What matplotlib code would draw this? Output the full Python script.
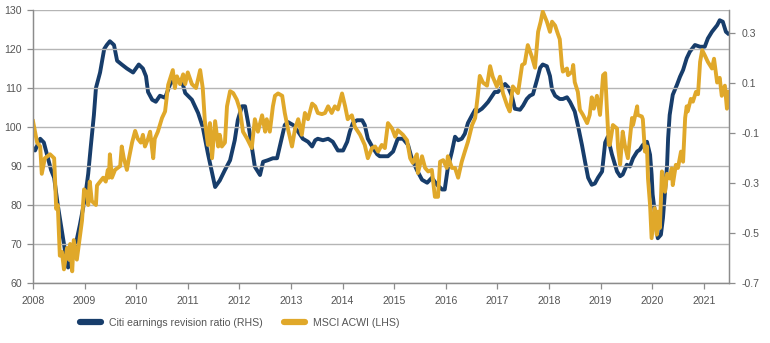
import matplotlib
matplotlib.use("Agg")
import matplotlib.pyplot as plt
from matplotlib import font_manager as fm

names = {f.name for f in fm.fontManager.ttflist}
FONT = "Liberation Sans Narrow" if "Liberation Sans Narrow" in names else "Liberation Sans"
NARROW = FONT == "Liberation Sans Narrow"
plt.rcParams['font.family'] = [FONT, 'DejaVu Sans']

# MSCI ACWI (LHS) - decimal year, index level
acwi_t = [2008.00, 2008.08, 2008.14, 2008.17, 2008.23, 2008.33, 2008.41, 2008.45, 2008.48, 2008.52,
          2008.56, 2008.60, 2008.66, 2008.70, 2008.72, 2008.76, 2008.79, 2008.85, 2008.91, 2008.95,
          2008.99, 2009.05, 2009.07, 2009.10, 2009.14, 2009.22, 2009.24, 2009.30, 2009.36, 2009.41,
          2009.45, 2009.47, 2009.49, 2009.53, 2009.59, 2009.69, 2009.72, 2009.76, 2009.82, 2009.86,
          2009.92, 2009.98, 2010.03, 2010.09, 2010.13, 2010.17, 2010.23, 2010.27, 2010.33, 2010.36,
          2010.42, 2010.50, 2010.56, 2010.62, 2010.71, 2010.75, 2010.79, 2010.85, 2010.91, 2010.95,
          2011.00, 2011.08, 2011.16, 2011.24, 2011.29, 2011.33, 2011.39, 2011.43, 2011.47, 2011.53,
          2011.59, 2011.62, 2011.66, 2011.72, 2011.76, 2011.82, 2011.88, 2011.95, 2012.01, 2012.07,
          2012.15, 2012.24, 2012.30, 2012.36, 2012.44, 2012.50, 2012.53, 2012.59, 2012.65, 2012.69,
          2012.75, 2012.83, 2012.88, 2012.94, 2013.02, 2013.08, 2013.14, 2013.21, 2013.27, 2013.33,
          2013.41, 2013.47, 2013.52, 2013.60, 2013.66, 2013.72, 2013.79, 2013.85, 2013.91, 2013.99,
          2014.05, 2014.10, 2014.18, 2014.24, 2014.34, 2014.43, 2014.49, 2014.57, 2014.63, 2014.69,
          2014.76, 2014.82, 2014.88, 2014.96, 2015.02, 2015.07, 2015.17, 2015.25, 2015.31, 2015.36,
          2015.44, 2015.46, 2015.54, 2015.60, 2015.66, 2015.73, 2015.79, 2015.85, 2015.89, 2015.95,
          2016.02, 2016.04, 2016.12, 2016.18, 2016.24, 2016.31, 2016.37, 2016.43, 2016.51, 2016.57,
          2016.62, 2016.66, 2016.72, 2016.80, 2016.86, 2016.91, 2016.99, 2017.05, 2017.11, 2017.19,
          2017.24, 2017.30, 2017.40, 2017.48, 2017.53, 2017.59, 2017.67, 2017.73, 2017.79, 2017.84,
          2017.88, 2017.96, 2018.02, 2018.06, 2018.12, 2018.17, 2018.21, 2018.25, 2018.27, 2018.35,
          2018.37, 2018.45, 2018.47, 2018.50, 2018.56, 2018.60, 2018.66, 2018.74, 2018.79, 2018.83,
          2018.87, 2018.93, 2018.99, 2019.05, 2019.09, 2019.12, 2019.16, 2019.18, 2019.24, 2019.32,
          2019.34, 2019.38, 2019.43, 2019.47, 2019.53, 2019.61, 2019.63, 2019.71, 2019.72, 2019.80,
          2019.82, 2019.86, 2019.90, 2019.92, 2019.96, 2019.99, 2020.05, 2020.09, 2020.11, 2020.15,
          2020.19, 2020.25, 2020.29, 2020.34, 2020.38, 2020.40, 2020.46, 2020.50, 2020.56, 2020.60,
          2020.64, 2020.67, 2020.69, 2020.75, 2020.79, 2020.85, 2020.89, 2020.93, 2020.97, 2021.02,
          2021.08, 2021.16, 2021.20, 2021.26, 2021.31, 2021.35, 2021.41, 2021.45, 2021.49]
acwi_v = [101.5, 96, 95, 88, 92, 93, 92, 79, 80, 67,
          68, 63.5, 69, 66, 70, 63, 71, 66, 72, 76,
          84, 83, 80, 86, 81, 80, 85, 86, 87, 86,
          89, 87, 93, 87, 89, 90, 95, 92, 89, 92,
          96, 99, 97, 96, 98, 95, 97, 98.8, 92, 97,
          98.8, 102.3, 104, 110.8, 114.6, 110, 113, 111, 113.5, 111,
          114, 111, 110, 114.6, 110, 101.7, 95.4, 101, 92, 101.5,
          95, 98, 95, 96, 105.3, 109.2, 108.7, 107, 104.5, 98.8,
          97, 94.6, 102, 98.8, 103, 98.8, 102, 98.8, 105.3, 108,
          108.6, 108, 103.6, 99.6, 95, 99.6, 102, 98, 103.6, 102,
          106, 105.3, 103.6, 103.3, 103.6, 105.3, 103.6, 105.3, 104.5, 108.6,
          105.3, 102, 103, 100, 98, 95.4, 92, 94.6, 95, 93.7,
          95.4, 94.6, 101, 99.6, 97.5, 99.2, 98, 96.6, 92, 90.8,
          93, 88.2, 92.5, 89.5, 88.6, 89, 82.1, 82.1, 91.1, 91.5,
          89.5, 92.5, 89.5, 89.5, 87, 91.1, 93.7, 96.2, 100.5, 102.3,
          108, 113.1, 111.4, 110.6, 115.6, 112.9, 110.4, 112.9, 108.6, 105.5,
          104, 110.4, 108.7, 115.9, 116.3, 121, 118, 115.2, 124.4, 127,
          129.6, 127, 124.4, 127, 126, 124, 122.5, 115.9, 114.2, 115,
          113.3, 114.2, 115.9, 111.5, 109, 104.4, 103.1, 101, 103.1, 107.6,
          104.7, 108, 103.1, 113.3, 113.8, 105.5, 95.4, 95.4, 100.5, 99.6,
          94.6, 90.4, 98.8, 95.4, 92, 102.3, 100.5, 105.3, 103.1, 102.7,
          102, 93.7, 95, 86.8, 80, 71.5, 79.2, 72.4, 78.3, 74.1,
          88.6, 83.4, 88, 86.8, 89.4, 85.1, 90.3, 89.5, 93.7, 91.1,
          102.3, 105.3, 104, 107.2, 106.5, 109, 108.4, 116.7, 119.7, 118.4,
          116.7, 115, 117.5, 111.4, 112.6, 108, 110.6, 104.7, 109]

# Citi earnings revision ratio (RHS)
citi_t = [2008.00, 2008.04, 2008.14, 2008.21, 2008.29, 2008.35, 2008.41, 2008.48, 2008.54, 2008.60,
          2008.66, 2008.68, 2008.76, 2008.83, 2008.91, 2009.01, 2009.07, 2009.12, 2009.18, 2009.22,
          2009.30, 2009.38, 2009.43, 2009.49, 2009.57, 2009.63, 2009.72, 2009.82, 2009.94, 2010.05,
          2010.13, 2010.19, 2010.23, 2010.31, 2010.38, 2010.46, 2010.56, 2010.66, 2010.77, 2010.89,
          2010.95, 2011.08, 2011.20, 2011.29, 2011.39, 2011.53, 2011.62, 2011.72, 2011.82, 2011.91,
          2011.97, 2012.05, 2012.11, 2012.17, 2012.24, 2012.30, 2012.40, 2012.46, 2012.55, 2012.65,
          2012.73, 2012.79, 2012.88, 2012.94, 2013.04, 2013.14, 2013.23, 2013.33, 2013.41, 2013.47,
          2013.52, 2013.62, 2013.72, 2013.81, 2013.91, 2014.01, 2014.09, 2014.14, 2014.20, 2014.28,
          2014.38, 2014.43, 2014.49, 2014.59, 2014.67, 2014.72, 2014.78, 2014.88, 2014.98, 2015.07,
          2015.17, 2015.27, 2015.34, 2015.44, 2015.54, 2015.64, 2015.73, 2015.83, 2015.93, 2015.98,
          2016.04, 2016.12, 2016.18, 2016.24, 2016.31, 2016.37, 2016.43, 2016.51, 2016.57, 2016.62,
          2016.70, 2016.76, 2016.82, 2016.90, 2016.95, 2017.01, 2017.09, 2017.15, 2017.21, 2017.28,
          2017.34, 2017.44, 2017.50, 2017.57, 2017.63, 2017.69, 2017.77, 2017.83, 2017.88, 2017.96,
          2018.02, 2018.06, 2018.12, 2018.21, 2018.27, 2018.35, 2018.41, 2018.50, 2018.56, 2018.64,
          2018.70, 2018.76, 2018.83, 2018.89, 2018.95, 2019.03, 2019.09, 2019.14, 2019.22, 2019.32,
          2019.38, 2019.43, 2019.51, 2019.57, 2019.63, 2019.71, 2019.76, 2019.82, 2019.90, 2019.96,
          2019.99, 2020.01, 2020.05, 2020.09, 2020.11, 2020.17, 2020.21, 2020.25, 2020.29, 2020.31,
          2020.34, 2020.40, 2020.48, 2020.54, 2020.60, 2020.67, 2020.73, 2020.83, 2020.93, 2021.02,
          2021.08, 2021.16, 2021.26, 2021.31, 2021.37, 2021.43, 2021.47]
citi_v = [-0.160, -0.170, -0.123, -0.138, -0.201, -0.248, -0.279, -0.388, -0.466, -0.544,
          -0.622, -0.638, -0.606, -0.544, -0.466, -0.357, -0.263, -0.154, -0.029, 0.080,
          0.142, 0.236, 0.252, 0.267, 0.252, 0.189, 0.174, 0.158, 0.142, 0.174,
          0.158, 0.127, 0.064, 0.033, 0.025, 0.049, 0.041, 0.096, 0.119, 0.105,
          0.060, 0.033, -0.020, -0.076, -0.182, -0.316, -0.290, -0.248, -0.209, -0.129,
          -0.048, 0.007, 0.007, -0.060, -0.154, -0.235, -0.268, -0.215, -0.209, -0.201,
          -0.201, -0.148, -0.068, -0.056, -0.068, -0.095, -0.123, -0.135, -0.154, -0.129,
          -0.123, -0.129, -0.123, -0.135, -0.170, -0.170, -0.135, -0.095, -0.060, -0.049,
          -0.049, -0.068, -0.123, -0.160, -0.185, -0.193, -0.193, -0.193, -0.174, -0.123,
          -0.123, -0.148, -0.201, -0.248, -0.287, -0.299, -0.279, -0.307, -0.326, -0.326,
          -0.240, -0.174, -0.115, -0.129, -0.123, -0.103, -0.060, -0.029, -0.007, -0.014,
          -0.003, 0.010, 0.024, 0.049, 0.064, 0.064, 0.083, 0.096, 0.083, 0.049,
          -0.003, -0.007, 0.010, 0.036, 0.049, 0.055, 0.114, 0.161, 0.174, 0.167,
          0.128, 0.074, 0.049, 0.036, 0.036, 0.043, 0.024, -0.014, -0.068, -0.148,
          -0.215, -0.279, -0.307, -0.302, -0.279, -0.254, -0.138, -0.115, -0.185, -0.254,
          -0.273, -0.266, -0.227, -0.234, -0.201, -0.174, -0.167, -0.148, -0.135, -0.187,
          -0.266, -0.346, -0.413, -0.493, -0.521, -0.507, -0.440, -0.335, -0.227, -0.121,
          -0.028, 0.053, 0.092, 0.125, 0.152, 0.199, 0.225, 0.252, 0.245, 0.245,
          0.278, 0.305, 0.331, 0.351, 0.345, 0.305, 0.298]

years = list(range(2008, 2022))
left_ticks = [60, 70, 80, 90, 100, 110, 120, 130]
right_ticks = [-0.7, -0.5, -0.3, -0.1, 0.1, 0.3]

BLUE = "#173d6b"
GOLD = "#e0a82a"
GREY_TXT = "#555555"
GRID = "#b5b5b5"
SPINE = "#8c8c8c"

TICK_FS = 8.5 if NARROW else 7.6
LEG_FS = 9.5 if NARROW else 7.6

fig = plt.figure(figsize=(7.7, 3.43), dpi=100)
ax = fig.add_axes([33/770, 60/343, (729-33)/770, (283-10)/343])
ax2 = ax.twinx()

ax.set_xlim(2008, 2021.49)
ax.set_ylim(60, 130)
ax2.set_ylim(-0.7, 0.392)

ax.set_yticks(left_ticks)
ax.set_xticks(years)
ax.set_xticklabels([str(y) for y in years])
ax2.set_yticks(right_ticks)
ax2.set_yticklabels([f"{v:.1f}" for v in right_ticks])

ax.grid(axis='y', color=GRID, linewidth=1.0)
ax.set_axisbelow(True)

for a in (ax, ax2):
    for s in a.spines.values():
        s.set_color(SPINE)
        s.set_linewidth(0.9)
    a.spines['top'].set_visible(False)
    a.tick_params(colors=SPINE, labelcolor=GREY_TXT, labelsize=TICK_FS, length=4, width=0.9)
ax.tick_params(axis='y', pad=4)
ax2.tick_params(axis='y', pad=5)
ax.tick_params(axis='x', pad=5)

l2, = ax2.plot(citi_t, citi_v, color=BLUE, linewidth=2.8, solid_joinstyle='round',
               label="Citi earnings revision ratio (RHS)")
ax.set_zorder(ax2.get_zorder() + 1)
ax.patch.set_visible(False)
l1, = ax.plot(acwi_t, acwi_v, color=GOLD, linewidth=2.8, solid_joinstyle='round',
              label="MSCI ACWI (LHS)")

leg = fig.legend([l2, l1], [l2.get_label(), l1.get_label()], loc='center left',
                 bbox_to_anchor=(80/770, 20.5/343), ncol=2, frameon=False,
                 fontsize=LEG_FS, handlelength=2.0, handletextpad=0.75, columnspacing=2.0,
                 borderpad=0, borderaxespad=0)
for t in leg.get_texts():
    t.set_color(GREY_TXT)
for h in leg.get_lines():
    h.set_linewidth(4.5)
    h.set_solid_capstyle('round')

fig.savefig("out.png", dpi=100)
